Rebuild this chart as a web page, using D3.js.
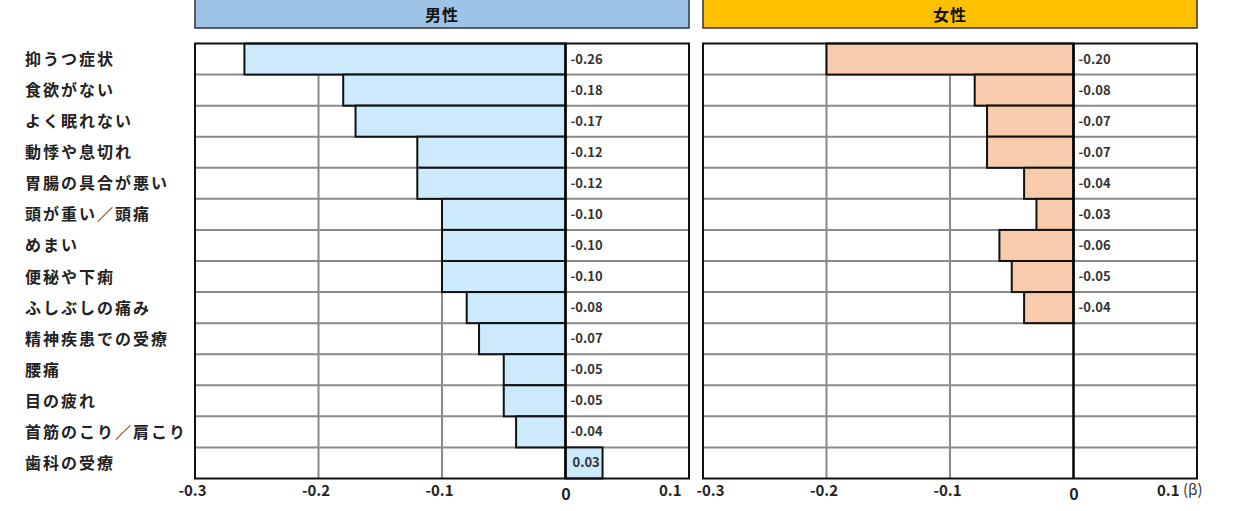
<!DOCTYPE html>
<html><head><meta charset="utf-8">
<script src="https://cdn.jsdelivr.net/npm/d3@7"></script>
<style>
body{margin:0;background:#fff;}
text{font-family:"Noto Sans CJK JP","Liberation Sans",sans-serif;}
</style></head>
<body><svg id="c" width="1239" height="511"></svg>
<script>
const categories = ["抑うつ症状","食欲がない","よく眠れない","動悸や息切れ","胃腸の具合が悪い","頭が重い／頭痛","めまい","便秘や下痢","ふしぶしの痛み","精神疾患での受療","腰痛","目の疲れ","首筋のこり／肩こり","歯科の受療"];
const maleValues = [-0.26,-0.18,-0.17,-0.12,-0.12,-0.10,-0.10,-0.10,-0.08,-0.07,-0.05,-0.05,-0.04,0.03];
const femaleValues = [-0.20,-0.08,-0.07,-0.07,-0.04,-0.03,-0.06,-0.05,-0.04,null,null,null,null,null];
const panelTitles = ["男性","女性"];
const tickValues = [-0.3,-0.2,-0.1,0,0.1];
const tickLabels = ["-0.3","-0.2","-0.1","0","0.1"];

const svg = d3.select("#c");
const plotTop = 43.5, plotBottom = 478.5;
const y = d3.scaleBand().domain(categories).range([plotTop,plotBottom]).padding(0);

// category labels
svg.append("g").selectAll("text").data(categories).join("text")
  .attr("x",25).attr("y",d=>y(d)+y.bandwidth()/2-1)
  .attr("dominant-baseline","central")
  .attr("font-size",16).attr("font-weight","bold").attr("letter-spacing","2px")
  .attr("fill","#222").text(d=>d);

const panels = [
  {title:panelTitles[0], values:maleValues, x0:195, x1:689, head:"#9DC3E6", fill:"#CDE9FC", lastDx:-8},
  {title:panelTitles[1], values:femaleValues, x0:703, x1:1197, head:"#FFC000", fill:"#F8CBAD", lastDx:-18}
];

panels.forEach((p,pi)=>{
  const x = d3.scaleLinear().domain([-0.3,0.1]).range([p.x0,p.x1]);
  const g = svg.append("g");
  // header
  g.append("rect").attr("x",p.x0).attr("y",-2).attr("width",p.x1-p.x0).attr("height",30)
    .attr("fill",p.head).attr("stroke","#333").attr("stroke-width",1.5);
  g.append("text").attr("x",(p.x0+p.x1)/2).attr("y",14).attr("text-anchor","middle")
    .attr("dominant-baseline","central").attr("font-size",16).attr("font-weight","bold")
    .attr("letter-spacing","1px").attr("fill","#111").text(p.title);
  // background
  g.append("rect").attr("x",p.x0).attr("y",plotTop).attr("width",p.x1-p.x0).attr("height",plotBottom-plotTop).attr("fill","#fff");
  // vertical grid
  g.selectAll("line.vg").data([-0.2,-0.1]).join("line").attr("class","vg")
    .attr("x1",d=>x(d)).attr("x2",d=>x(d)).attr("y1",plotTop).attr("y2",plotBottom)
    .attr("stroke","#8a8a8a").attr("stroke-width",2);
  // horizontal row lines
  g.selectAll("line.hg").data(categories.slice(1)).join("line").attr("class","hg")
    .attr("x1",p.x0).attr("x2",p.x1).attr("y1",d=>y(d)).attr("y2",d=>y(d))
    .attr("stroke","#8a8a8a").attr("stroke-width",2);
  // bars
  const data = categories.map((c,i)=>({c, v:p.values[i]})).filter(d=>d.v!==null);
  g.selectAll("rect.bar").data(data).join("rect").attr("class","bar")
    .attr("x",d=>x(Math.min(0,d.v))).attr("width",d=>Math.abs(x(d.v)-x(0)))
    .attr("y",d=>y(d.c)).attr("height",y.bandwidth())
    .attr("fill",p.fill).attr("stroke","#111").attr("stroke-width",2);
  // zero line
  g.append("line").attr("x1",x(0)).attr("x2",x(0)).attr("y1",plotTop).attr("y2",plotBottom)
    .attr("stroke","#000").attr("stroke-width",2.5);
  // border
  g.append("rect").attr("x",p.x0).attr("y",plotTop).attr("width",p.x1-p.x0).attr("height",plotBottom-plotTop)
    .attr("fill","none").attr("stroke","#111").attr("stroke-width",2);
  // value labels
  g.selectAll("text.val").data(data).join("text").attr("class","val")
    .attr("x",d=>x(0)+(d.v>0?7:5)).attr("y",d=>y(d.c)+y.bandwidth()/2-1)
    .attr("dominant-baseline","central").attr("font-family","Liberation Sans, Arial, sans-serif")
    .attr("font-size",13).attr("font-weight","bold").attr("fill","#333")
    .text(d=>d.v.toFixed(2));
  // axis
  const axis = d3.axisBottom(x).tickValues(tickValues).tickSize(0)
    .tickFormat((d,i)=>tickLabels[i]);
  const ag = g.append("g").attr("transform",`translate(0,${plotBottom})`).call(axis);
  ag.select(".domain").remove();
  ag.selectAll("text").attr("font-family","Liberation Sans, Arial, sans-serif")
    .attr("font-size",15).attr("font-weight","bold").attr("fill","#222")
    .attr("dy","0.71em").attr("y",7)
    .each(function(d,i){
      const t = d3.select(this);
      if(d===0){ t.attr("font-size",16).attr("y",10).attr("dx",0); }
      else if(i===tickLabels.length-1){ t.attr("text-anchor","end").attr("dx",p.lastDx); }
      else if(i===0 && pi===1){ t.attr("dx",7); }
      else { t.attr("dx",-3); }
    });
  if(pi===1){
    g.append("text").attr("x",p.x1-14).attr("y",plotBottom+6).attr("dy","0.71em")
      .attr("font-family","Liberation Sans, Arial, sans-serif")
      .attr("font-size",15).attr("fill","#333").text("(β)");
  }
});
</script></body></html>
